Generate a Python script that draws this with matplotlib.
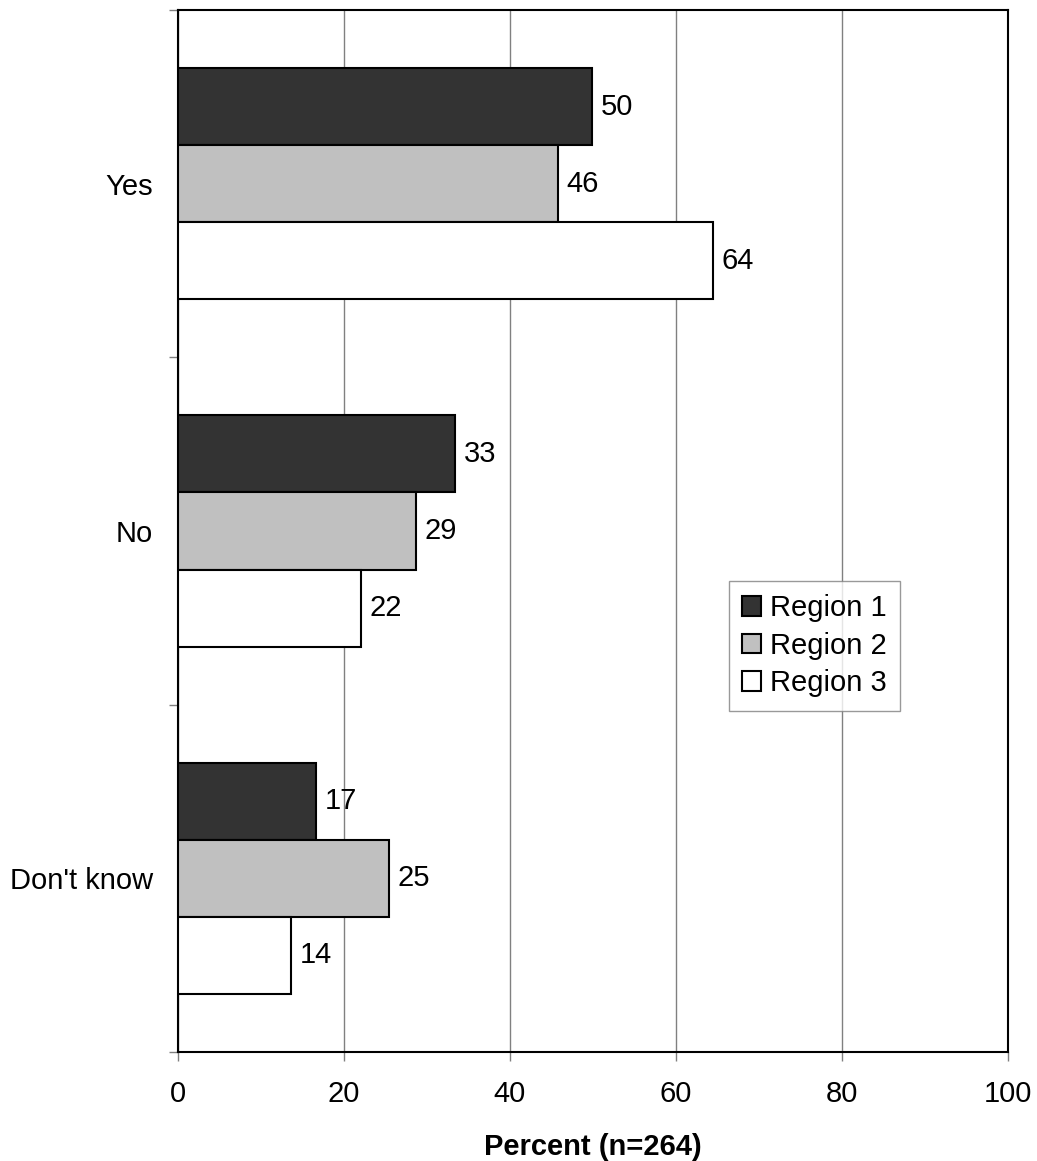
import matplotlib
matplotlib.use("Agg")
import matplotlib.pyplot as plt
import numpy as np

plt.rcParams['font.family'] = ['Liberation Sans', 'DejaVu Sans']

categories = ["Yes", "No", "Don't know"]
series_names = ["Region 1", "Region 2", "Region 3"]
region1 = [49.9, 33.4, 16.6]
region2 = [45.8, 28.7, 25.4]
region3 = [64.4, 22.0, 13.6]
colors = ["#333333", "#c0c0c0", "#ffffff"]
xticks = [0, 20, 40, 60, 80, 100]
xlabel = "Percent (n=264)"

FS = 21

fig = plt.figure(figsize=(10.37, 11.61), dpi=100)
ax = fig.add_axes([178/1037, 1-1052/1161, 830/1037, 1042/1161])

y = np.arange(len(categories))
h = 0.222
offsets = [-h, 0, h]
for vals, off, c, name in zip([region1, region2, region3], offsets, colors, series_names):
    ax.barh(y + off, vals, height=h, color=c, edgecolor='black', linewidth=1.5,
            label=name, zorder=3)
    for yi, v in zip(y + off, vals):
        ax.text(v + 1.05, yi, f"{round(v):d}", va='center', ha='left', fontsize=FS, zorder=4)

ax.set_xlim(0, 100)
ax.set_ylim(2.5, -0.5)
ax.set_xticks(xticks)
ax.set_xticklabels([str(t) for t in xticks], fontsize=FS)
ax.set_yticks(y)
ax.set_yticklabels(categories, fontsize=FS)
ax.set_yticks([-0.5, 0.5, 1.5, 2.5], minor=True)
ax.tick_params(axis='y', which='major', length=0, pad=18)
ax.tick_params(axis='y', which='minor', length=6.5, width=1, color='#808080', direction='out')
ax.tick_params(axis='x', which='major', length=6.5, width=1, color='#808080', direction='out', pad=13.5)

ax.xaxis.grid(True, color='#808080', linewidth=1)
ax.set_axisbelow(True)
for s in ax.spines.values():
    s.set_linewidth(1.5)
    s.set_color('black')

fig.text((178 + 1008) / 2 / 1037, 1 - 1155/1161, xlabel, fontsize=FS, fontweight='bold',
         ha='center', va='baseline')

leg = ax.legend(loc='upper left', bbox_to_anchor=(0.6639, 0.452), borderaxespad=0,
                fontsize=FS, frameon=True, fancybox=False, edgecolor='#808080',
                handlelength=0.65, handleheight=0.65, handletextpad=0.3,
                labelspacing=0.33, borderpad=0.45)
leg.get_frame().set_linewidth(1)
for p in leg.get_patches():
    p.set_linewidth(1.5)

fig.savefig("out.png", dpi=100, facecolor='white')
